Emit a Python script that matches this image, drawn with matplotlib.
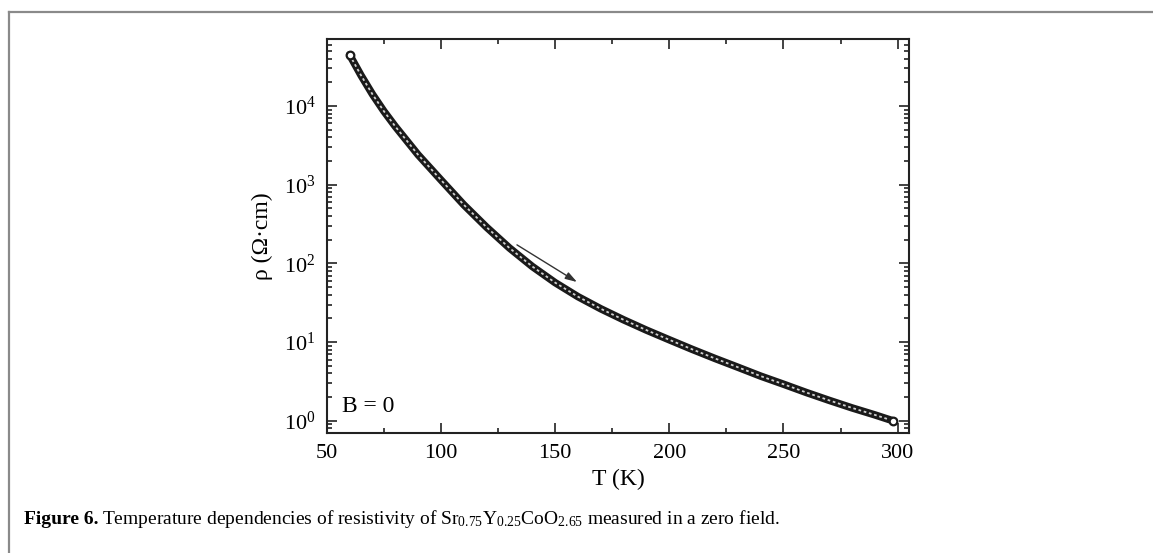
"""Resistivity vs temperature figure (log scale) with caption."""

import matplotlib

matplotlib.use("Agg")
import matplotlib.pyplot as plt
from matplotlib.lines import Line2D
from matplotlib.ticker import LogLocator, MultipleLocator, LogFormatterMathtext

plt.rcParams["font.family"] = ["Liberation Serif", "DejaVu Serif"]
plt.rcParams["mathtext.fontset"] = "custom"
plt.rcParams["mathtext.rm"] = "Liberation Serif"
plt.rcParams["mathtext.it"] = "Liberation Serif:italic"
plt.rcParams["mathtext.bf"] = "Liberation Serif:bold"

# data
temperature = [60, 65, 70, 75, 80, 90, 100, 110, 120, 130, 140, 150, 160, 170,
               180, 190, 200, 210, 220, 230, 240, 250, 260, 270, 280, 290, 298]
resistivity = [44700, 24500, 14100, 8600, 5500, 2400, 1150, 556, 288, 157, 91.4,
               57.0, 37.8, 26.5, 19.2, 14.2, 10.7, 8.1, 6.2, 4.8, 3.7, 2.92,
               2.29, 1.82, 1.46, 1.19, 1.0]
x_ticks = [50, 100, 150, 200, 250, 300]
arrow_start = (133.3, 172)
arrow_end = (159.6, 58)

fig = plt.figure(figsize=(11.53, 5.53), dpi=100)
ax = fig.add_axes([0.2834, 0.217, 0.505, 0.7125])

# thick dark band with light core mimics the dense open-circle markers
ax.plot(temperature, resistivity, color="#1a1a1a", linewidth=5.4,
        solid_capstyle="round", solid_joinstyle="round", zorder=2)
ax.plot(temperature, resistivity, color="#d0d0d0", linewidth=1.3,
        linestyle=(0, (1.5, 1.5)), zorder=3)
ax.plot(temperature, resistivity, linestyle="none", marker="o",
        markersize=5.5, markerfacecolor="white", markeredgecolor="#1a1a1a",
        markeredgewidth=1.6, markevery=[0, len(temperature) - 1], zorder=4)

ax.annotate("", xy=arrow_end, xytext=arrow_start,
            arrowprops=dict(arrowstyle="-|>,head_length=0.7,head_width=0.22",
                            color="#333333", linewidth=1.0, shrinkA=0, shrinkB=0))

ax.set_yscale("log")
ax.set_xlim(50, 305)
ax.set_ylim(0.70, 71000)
ax.set_xticks(x_ticks)
ax.xaxis.set_minor_locator(MultipleLocator(25))
ax.yaxis.set_major_locator(LogLocator(base=10, numticks=10))
ax.yaxis.set_minor_locator(LogLocator(base=10, subs=range(2, 10), numticks=20))
ax.yaxis.set_major_formatter(LogFormatterMathtext())

ax.tick_params(which="both", direction="in", top=True, right=True,
               labelsize=16, width=1.2, color="#222222")
ax.tick_params(which="major", length=7, pad=8)
ax.tick_params(which="minor", length=3.5)
for spine in ax.spines.values():
    spine.set_linewidth(1.5)
    spine.set_color("#222222")

ax.set_xlabel("T (K)", fontsize=17, labelpad=4)
ax.set_ylabel("ρ (Ω·cm)", fontsize=17, labelpad=8)
ax.text(0.026, 0.066, "B = 0", transform=ax.transAxes, fontsize=17,
        va="center", ha="left")

# page frame lines (top and left)
fig.add_artist(Line2D([8.7 / 1153, 1.0], [1 - 12 / 553, 1 - 12 / 553],
                      transform=fig.transFigure, color="#8a8a8a", linewidth=1.6))
fig.add_artist(Line2D([8.7 / 1153, 8.7 / 1153], [0.0, 1 - 12 / 553],
                      transform=fig.transFigure, color="#8a8a8a", linewidth=1.6))

# caption
cap_y = 1 - 519 / 553
bold = fig.text(24 / 1153, cap_y, "Figure 6.", fontsize=14,
                fontweight="bold", va="center", ha="left")
renderer = fig.canvas.get_renderer()
bb = bold.get_window_extent(renderer)
fig.text((bb.x1 + 4) / 1153, cap_y,
         r"Temperature dependencies of resistivity of "
         r"Sr$_{0.75}$Y$_{0.25}$CoO$_{2.65}$ measured in a zero field.",
         fontsize=14, va="center", ha="left")

fig.savefig("out.png", dpi=100)
plt.close(fig)
